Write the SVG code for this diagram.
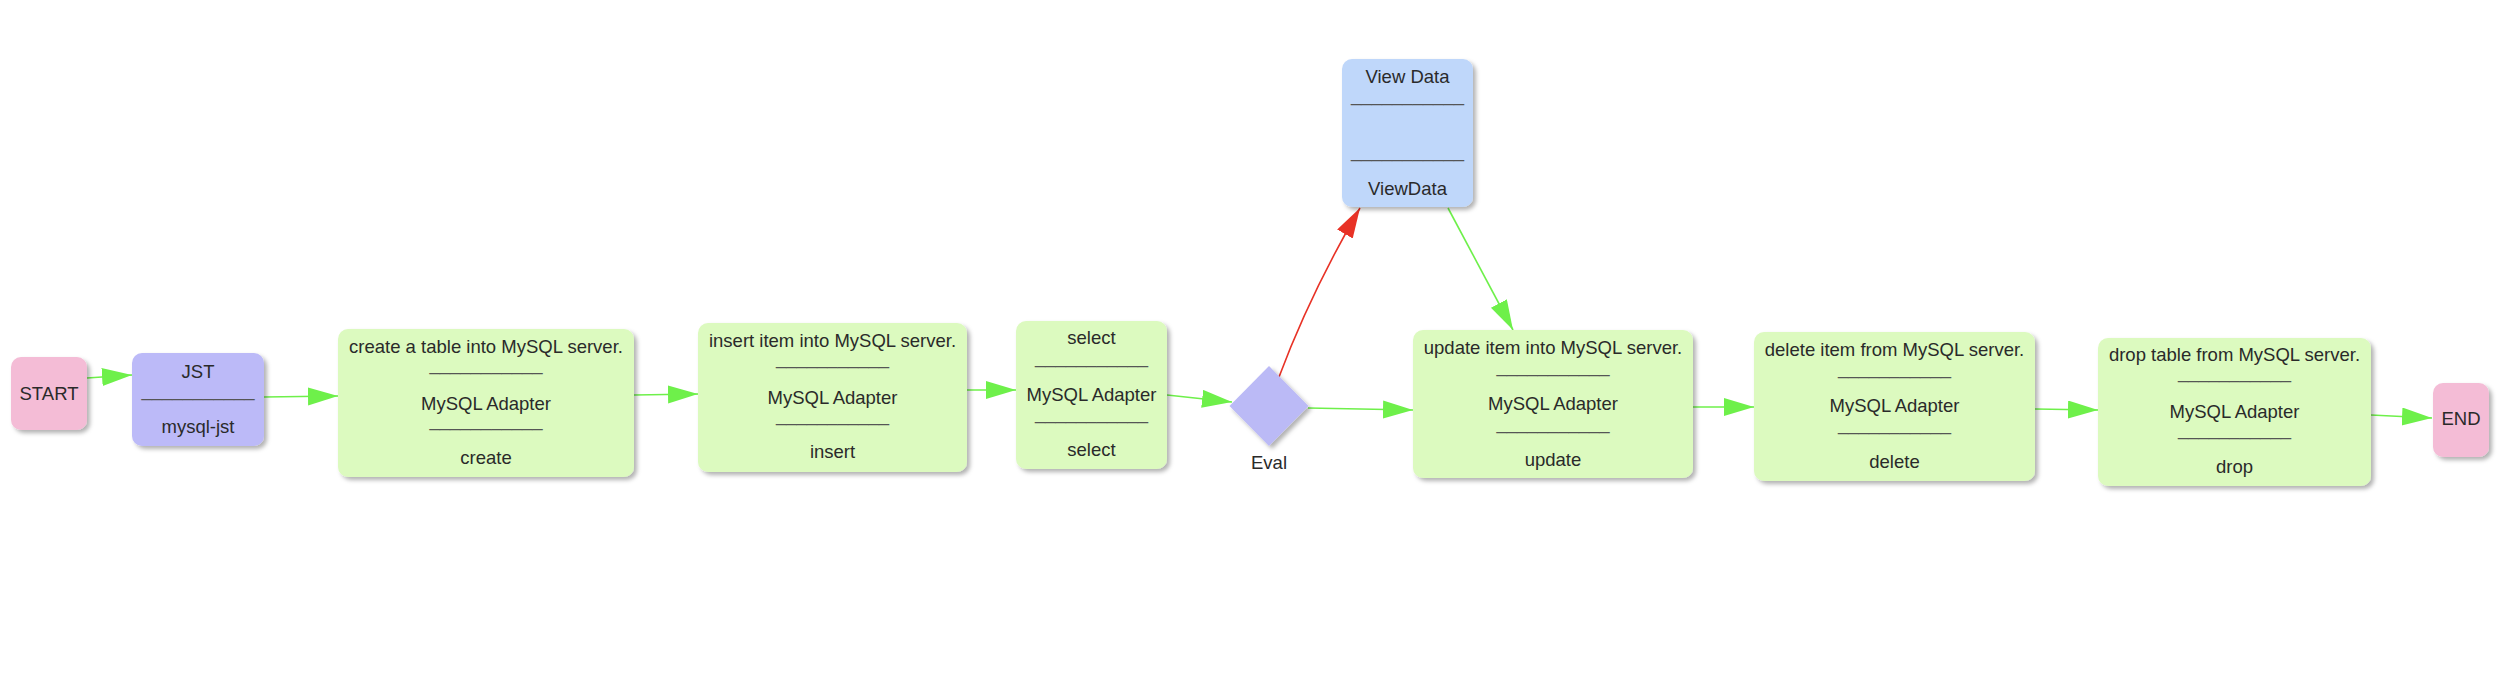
<svg xmlns="http://www.w3.org/2000/svg" width="2502" height="680" viewBox="0 0 2502 680">
<style>
text{font-family:"Liberation Sans",Arial,sans-serif;font-size:18.5px;fill:#2a2a2a;text-anchor:middle}
.sep{fill:#555}
.edge{fill:none;stroke:#6ef04a;stroke-width:1.6}
.red{fill:none;stroke:#e83226;stroke-width:1.6}
.g{fill:#dcfabf}
.pink{fill:#f4bcd6}
.purple{fill:#bcbaf8}
.blue{fill:#bfd7fa}
</style>
<defs>
<filter id="sh" x="-20%" y="-20%" width="140%" height="140%">
<feDropShadow dx="3" dy="3" stdDeviation="2.2" flood-color="#000" flood-opacity="0.3"/>
</filter>
<marker id="ag" markerUnits="userSpaceOnUse" markerWidth="32" markerHeight="20" refX="30" refY="9" orient="auto">
<path d="M0,0 L30,9 L0,18 Z" fill="#6ef04a"/>
</marker>
<marker id="ar" markerUnits="userSpaceOnUse" markerWidth="32" markerHeight="20" refX="30" refY="9" orient="auto">
<path d="M0,0 L30,9 L0,18 Z" fill="#e83226"/>
</marker>
</defs>

<g id="connectors">
<line class="edge" x1="87" y1="378" x2="132" y2="375" marker-end="url(#ag)"/>
<line class="edge" x1="264" y1="397" x2="338" y2="396" marker-end="url(#ag)"/>
<line class="edge" x1="634" y1="395" x2="698" y2="394" marker-end="url(#ag)"/>
<line class="edge" x1="967" y1="390" x2="1016" y2="390" marker-end="url(#ag)"/>
<line class="edge" x1="1167" y1="395" x2="1232" y2="402" marker-end="url(#ag)"/>
<path class="red" d="M1279,377 Q1310,294 1360,208" marker-end="url(#ar)"/>
<line class="edge" x1="1448" y1="208" x2="1513" y2="330" marker-end="url(#ag)"/>
<line class="edge" x1="1308" y1="408" x2="1413" y2="410" marker-end="url(#ag)"/>
<line class="edge" x1="1693" y1="407" x2="1754" y2="407" marker-end="url(#ag)"/>
<line class="edge" x1="2035" y1="409" x2="2098" y2="410" marker-end="url(#ag)"/>
<line class="edge" x1="2371" y1="415" x2="2432" y2="418" marker-end="url(#ag)"/>
</g>

<g id="start">
<rect class="pink" x="11" y="357" width="76" height="73" rx="10" filter="url(#sh)"/>
<text x="49" y="399.5">START</text>
</g>

<g id="jst">
<rect class="purple" x="132" y="353" width="132" height="93" rx="10" filter="url(#sh)"/>
<text x="198" y="377.5">JST</text>
<text class="sep" x="198" y="395.5">___________</text>
<text x="198" y="433">mysql-jst</text>
</g>

<g id="create">
<rect class="g" x="338" y="329" width="296" height="148" rx="10" filter="url(#sh)"/>
<text x="486" y="352.5">create a table into MySQL server.</text>
<text class="sep" x="486" y="369.5">___________</text>
<text x="486" y="409.5">MySQL Adapter</text>
<text class="sep" x="486" y="426">___________</text>
<text x="486" y="464">create</text>
</g>

<g id="insert">
<rect class="g" x="698" y="323" width="269" height="149" rx="10" filter="url(#sh)"/>
<text x="832.5" y="346.5">insert item into MySQL server.</text>
<text class="sep" x="832.5" y="364">___________</text>
<text x="832.5" y="403.5">MySQL Adapter</text>
<text class="sep" x="832.5" y="420.5">___________</text>
<text x="832.5" y="458">insert</text>
</g>

<g id="select">
<rect class="g" x="1016" y="321" width="151" height="148" rx="10" filter="url(#sh)"/>
<text x="1091.5" y="344">select</text>
<text class="sep" x="1091.5" y="362.5">___________</text>
<text x="1091.5" y="400.5">MySQL Adapter</text>
<text class="sep" x="1091.5" y="418.5">___________</text>
<text x="1091.5" y="456">select</text>
</g>

<g id="eval">
<polygon fill="#bbbaf6" points="1269,366 1308.5,406 1269,446 1229.5,406" filter="url(#sh)"/>
<text x="1269" y="468.5">Eval</text>
</g>

<g id="viewdata">
<rect class="blue" x="1342" y="59" width="131" height="148" rx="10" filter="url(#sh)"/>
<text x="1407.5" y="82.5">View Data</text>
<text class="sep" x="1407.5" y="100.5">___________</text>
<text class="sep" x="1407.5" y="157">___________</text>
<text x="1407.5" y="195">ViewData</text>
</g>

<g id="update">
<rect class="g" x="1413" y="330" width="280" height="148" rx="10" filter="url(#sh)"/>
<text x="1553" y="353.5">update item into MySQL server.</text>
<text class="sep" x="1553" y="372">___________</text>
<text x="1553" y="410">MySQL Adapter</text>
<text class="sep" x="1553" y="428.5">___________</text>
<text x="1553" y="466">update</text>
</g>

<g id="delete">
<rect class="g" x="1754" y="332" width="281" height="149" rx="10" filter="url(#sh)"/>
<text x="1894.5" y="355.5">delete item from MySQL server.</text>
<text class="sep" x="1894.5" y="374">___________</text>
<text x="1894.5" y="412">MySQL Adapter</text>
<text class="sep" x="1894.5" y="430">___________</text>
<text x="1894.5" y="468">delete</text>
</g>

<g id="drop">
<rect class="g" x="2098" y="338" width="273" height="148" rx="10" filter="url(#sh)"/>
<text x="2234.5" y="361">drop table from MySQL server.</text>
<text class="sep" x="2234.5" y="378">___________</text>
<text x="2234.5" y="417.5">MySQL Adapter</text>
<text class="sep" x="2234.5" y="434.5">___________</text>
<text x="2234.5" y="473">drop</text>
</g>

<g id="end">
<rect class="pink" x="2433" y="383" width="56" height="74" rx="10" filter="url(#sh)"/>
<text x="2461" y="425">END</text>
</g>
</svg>
